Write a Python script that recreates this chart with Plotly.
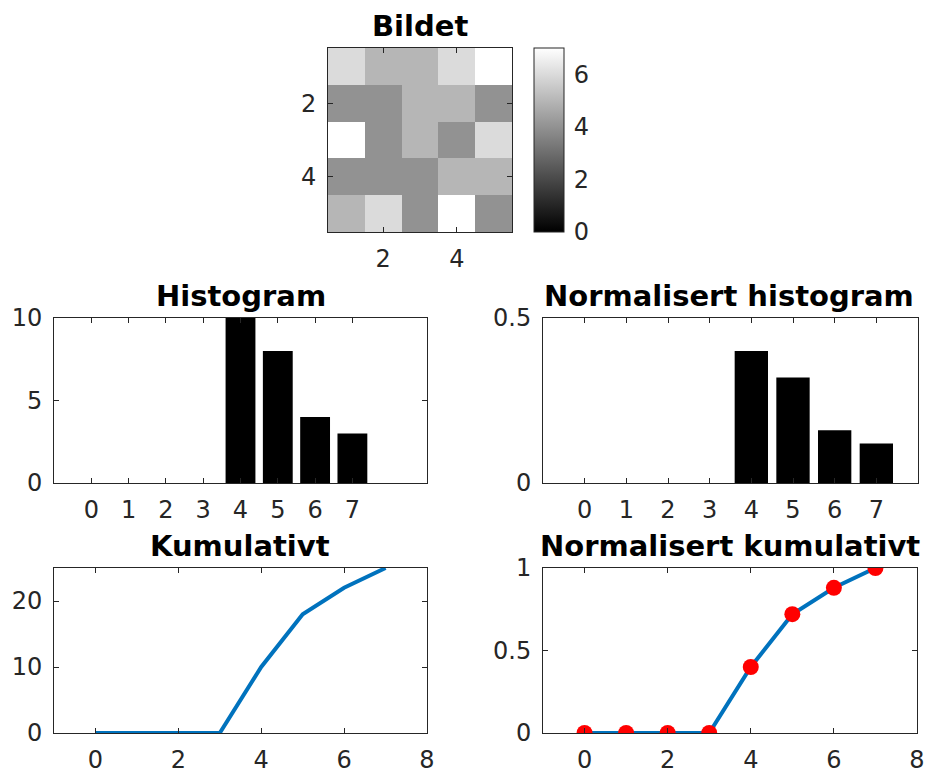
import plotly.graph_objects as go

image = [
    [6, 5, 5, 6, 7],
    [4, 4, 5, 5, 4],
    [7, 4, 5, 4, 6],
    [4, 4, 4, 5, 5],
    [5, 6, 4, 7, 4],
]
levels = [0, 1, 2, 3, 4, 5, 6, 7]
counts = [0, 0, 0, 0, 10, 8, 4, 3]
norm_counts = [0, 0, 0, 0, 0.40, 0.32, 0.16, 0.12]
cumulative = [0, 0, 0, 0, 10, 18, 22, 25]
norm_cumulative = [0, 0, 0, 0, 0.40, 0.72, 0.88, 1.00]

W, H = 933, 776
def px(x0, x1):
    return [x0 / W, x1 / W]
def py(y0, y1):
    return [1 - y1 / H, 1 - y0 / H]

TICKC = "#262626"
FONT = "DejaVu Sans"
TF = 24

fig = go.Figure()

fig.add_trace(go.Heatmap(
    z=image, x=[1, 2, 3, 4, 5], y=[1, 2, 3, 4, 5],
    colorscale=[[0, "black"], [1, "white"]], zmin=0, zmax=7,
    xaxis="x", yaxis="y",
    colorbar=dict(x=534 / W, xanchor="left", y=1 - 232 / H, yanchor="bottom",
                  len=184 / H, lenmode="fraction", thickness=30, thicknessmode="pixels",
                  outlinewidth=1, outlinecolor=TICKC, tickvals=[0, 2, 4, 6],
                  ticks="outside", ticklen=5, tickcolor="rgba(0,0,0,0)",
                  tickfont=dict(size=TF, color=TICKC, family=FONT), xpad=0, ypad=0),
))

fig.add_trace(go.Bar(x=levels, y=counts, width=0.8, marker=dict(color="black", line=dict(width=0)),
                     xaxis="x2", yaxis="y2"))
fig.add_trace(go.Bar(x=levels, y=norm_counts, width=0.8, marker=dict(color="black", line=dict(width=0)),
                     xaxis="x3", yaxis="y3"))
fig.add_trace(go.Scatter(x=levels, y=cumulative, mode="lines", line=dict(color="#0072BD", width=4),
                         xaxis="x4", yaxis="y4"))
fig.add_trace(go.Scatter(x=levels, y=norm_cumulative, mode="lines+markers", line=dict(color="#0072BD", width=4),
                         marker=dict(color="red", size=16, symbol="circle"),
                         xaxis="x5", yaxis="y5"))

def ax(domain, rng, tickvals, anchor, standoff, **kw):
    d = dict(domain=domain, range=rng, tickvals=tickvals, anchor=anchor,
             showline=True, linecolor=TICKC, linewidth=1, mirror="allticks",
             ticks="inside", ticklen=5, tickcolor=TICKC, showgrid=False, zeroline=False,
             tickfont=dict(size=TF, color=TICKC, family=FONT), fixedrange=True,
             ticklabelstandoff=standoff, automargin=False)
    d.update(kw)
    return d

XS, YS = 5, 6
fig.update_layout(
    width=W, height=H, margin=dict(l=0, r=0, t=0, b=0, autoexpand=False),
    paper_bgcolor="white", plot_bgcolor="white", showlegend=False,
    xaxis=ax(px(328, 512), [0.5, 5.5], [2, 4], "y", XS),
    yaxis=ax(py(48, 232), [5.5, 0.5], [2, 4], "x", YS),
    xaxis2=ax(px(54, 427), [-1, 9], levels, "y2", XS),
    yaxis2=ax(py(318, 483), [0, 10], [0, 5, 10], "x2", YS),
    xaxis3=ax(px(543, 918), [-1, 8], levels, "y3", XS),
    yaxis3=ax(py(318, 483), [0, 0.5], [0, 0.5], "x3", YS),
    xaxis4=ax(px(54, 427), [-1, 8], [0, 2, 4, 6, 8], "y4", XS),
    yaxis4=ax(py(568, 733), [0, 25], [0, 10, 20], "x4", YS),
    xaxis5=ax(px(543, 917), [-1, 8], [0, 2, 4, 6, 8], "y5", XS),
    yaxis5=ax(py(568, 733), [0, 1], [0, 0.5, 1], "x5", YS),
)

titles = [("Bildet", 420, 26), ("Histogram", 241, 296), ("Normalisert histogram", 729, 296),
          ("Kumulativt", 240, 546), ("Normalisert kumulativt", 730, 546)]
for t, cx, cy in titles:
    fig.add_annotation(text="<b>%s</b>" % t, x=cx / W, y=1 - cy / H, xref="paper", yref="paper",
                       showarrow=False, xanchor="center", yanchor="middle",
                       font=dict(size=29, color="black", family=FONT))

fig.write_html("out.html", config={"displayModeBar": False},
               post_script="document.body.style.margin='0';document.body.style.overflow='hidden';")
